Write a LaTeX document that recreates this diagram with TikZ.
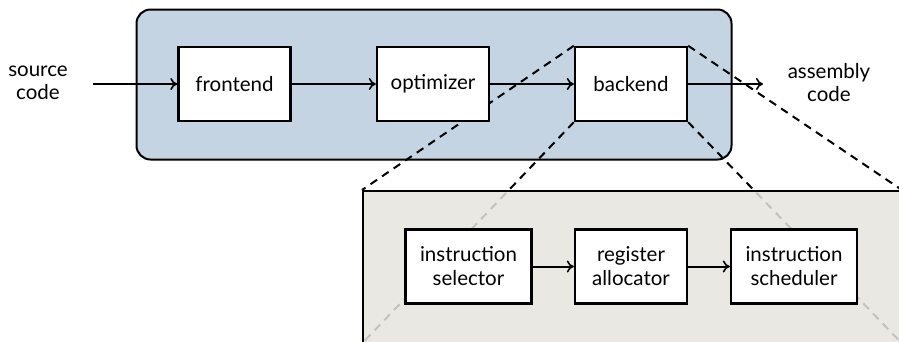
\documentclass[tikz,border=0pt]{standalone}
\usepackage{fontspec}
\setmainfont{Lato}
\usetikzlibrary{arrows.meta}
\pgfdeclarelayer{bg}
\pgfdeclarelayer{mid}
\pgfsetlayers{bg,mid,main}
\definecolor{bluefill}{RGB}{197,212,226}
\definecolor{beigefill}{RGB}{231,228,222}
\begin{document}
\begin{tikzpicture}[x=1pt,y=-1pt,
  stage/.style={draw, fill=white, line width=2.4pt, minimum width=112pt, minimum height=74pt,
    inner sep=0pt, align=center, font=\fontsize{20.5}{24}\selectfont},
  widestage/.style={stage, minimum width=126pt},
  lbl/.style={inner sep=0pt, align=center, font=\fontsize{20.5}{23}\selectfont},
  arr/.style={line width=2pt, -{To[length=7pt,width=12pt,line width=1.6pt]}},
  zoomline/.style={line width=2pt, dash pattern=on 8pt off 6pt},
]
\useasboundingbox (0,0) rectangle (899,341);
\clip (0,0) rectangle (899,341);

% compiler container
\begin{pgfonlayer}{bg}
\fill[white] (0,0) rectangle (899,341);
\node[draw, fill=bluefill, rounded corners=14pt, line width=2pt, minimum width=595pt,
  minimum height=150pt, anchor=north west, inner sep=0pt] (comp) at (135.5,8.5) {};
\end{pgfonlayer}

% main pipeline
\node[stage] (fe) at (234.5,84) {frontend};
\node[stage] (opt) at (433,84) {optimizer};
\node[stage] (be) at (631,84) {backend};

\node[lbl] (src) at (38,83) {source\\code};
\node[lbl] (asm) at (829,83) {assembly\\code};
\coordinate (srcend) at (93,84);
\coordinate (asmend) at (763,84);

\draw[arr] (srcend) -- (fe);
\draw[arr] (fe) -- (opt);
\draw[arr] (opt) -- (be);
\draw[arr] (be) -- (asmend);

% zoomed backend
\node[draw, line width=2pt, fill=beigefill, fill opacity=0.85, minimum width=538pt,
  minimum height=151.5pt, anchor=north west, inner sep=0pt] (zoom) at (362,190) {};

\begin{pgfonlayer}{mid}
\draw[zoomline] (be.north west) -- (zoom.north west);
\draw[zoomline] (be.south west) -- (zoom.south west);
\draw[zoomline] (be.north east) -- (zoom.north east);
\draw[zoomline] (be.south east) -- (zoom.south east);
\end{pgfonlayer}

\node[widestage] (sel) at (468.5,266.5) {instruction\\selector};
\node[stage] (alloc) at (631,266.5) {register\\allocator};
\node[widestage] (sched) at (794,266.5) {instruction\\scheduler};

\draw[arr] (sel) -- (alloc);
\draw[arr] (alloc) -- (sched);
\end{tikzpicture}
\end{document}
